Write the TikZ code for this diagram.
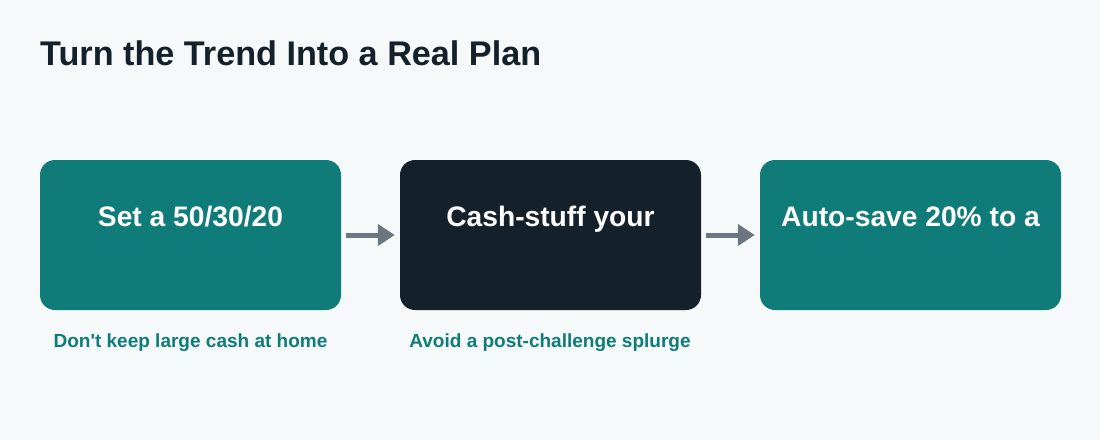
\documentclass[tikz,border=0pt]{standalone}
\usepackage{fontspec}
\setmainfont{Liberation Sans}
\usetikzlibrary{arrows.meta}
\definecolor{bg}{HTML}{F5F9FA}
\definecolor{teal1}{HTML}{0F7C7A}
\definecolor{dark1}{HTML}{14202A}
\definecolor{arrowc}{HTML}{6B7680}
\tikzset{
  stepbox/.style={rectangle, rounded corners=15pt, minimum width=301pt, minimum height=150pt, inner sep=0pt, draw=none},
  boxtext/.style={text=white, font=\bfseries\fontsize{28.2}{32}\selectfont, inner sep=0pt, anchor=base},
  captext/.style={text=teal1, font=\bfseries\fontsize{19}{22}\selectfont, inner sep=0pt, anchor=base},
  flow/.style={draw=arrowc, line width=5pt, -{Triangle[length=17pt,width=21pt]}}
}
\begin{document}
\begin{tikzpicture}[x=1pt,y=-1pt]
\fill[bg] (0,0) rectangle (1100,440);
\useasboundingbox (0,0) rectangle (1100,440);
\node[anchor=base west, text=dark1, font=\bfseries\fontsize{34.2}{40}\selectfont, inner sep=0pt] (title) at (40,65) {Turn the Trend Into a Real Plan};
\node[stepbox, fill=teal1] (b1) at (190.5,235) {};
\node[stepbox, fill=dark1] (b2) at (550.5,235) {};
\node[stepbox, fill=teal1] (b3) at (910.5,235) {};
\node[boxtext] (t1) at ([yshift=9pt]b1.center) {Set a 50/30/20};
\node[boxtext] (t2) at ([yshift=9pt]b2.center) {Cash-stuff your};
\node[boxtext] (t3) at ([yshift=9pt]b3.center) {Auto-save 20\% to a};
\draw[flow] ([xshift=5pt]b1.east) -- ([xshift=-5pt]b2.west);
\draw[flow] ([xshift=5pt]b2.east) -- ([xshift=-5pt]b3.west);
\node[captext] (c1) at (190.5,347.5) {Don\textquotesingle t keep large cash at home};
\node[captext] (c2) at (550,347.5) {Avoid a post-challenge splurge};
\end{tikzpicture}
\end{document}
